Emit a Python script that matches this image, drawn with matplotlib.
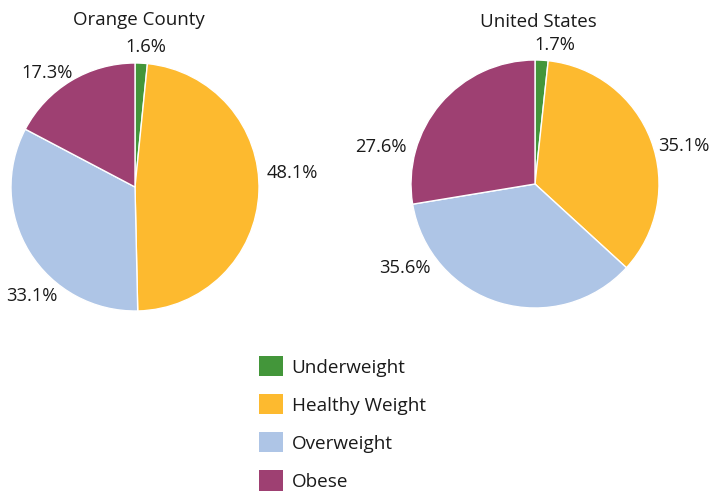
import numpy as np
import matplotlib.pyplot as plt
from matplotlib.patches import Patch

plt.rcParams['font.family'] = ['Open Sans', 'DejaVu Sans']

categories = ['Underweight', 'Healthy Weight', 'Overweight', 'Obese']
colors = ['#43963a', '#fdba2f', '#aec5e6', '#9e4072']

orange_county = [1.6, 48.1, 33.1, 17.3]
united_states = [1.7, 35.1, 35.6, 27.6]

# label placement (degrees, radius) for each wedge's percentage
oc_label_pos = [(85.5, 1.13), (5.0, 1.27), (-133.5, 1.21), (127.5, 1.16)]
us_label_pos = [(81.8, 1.13), (14.3, 1.24), (-147.3, 1.25), (166.6, 1.28)]

W, H = 710, 491
fig = plt.figure(figsize=(W / 100, H / 100), dpi=100)


def draw_pie(cx, cy, r, values, title, label_pos, title_y):
    ax = fig.add_axes([(cx - r) / W, (H - cy - r) / H, 2 * r / W, 2 * r / H])
    ax.pie(values, colors=colors, startangle=90, counterclock=False,
           wedgeprops=dict(edgecolor='white', linewidth=1.0))
    ax.set_xlim(-1, 1)
    ax.set_ylim(-1, 1)
    ax.set_aspect('equal')
    ax.axis('off')
    for v, (ang, d) in zip(values, label_pos):
        a = np.deg2rad(ang)
        ax.text(d * np.cos(a), d * np.sin(a), f'{v:.1f}%', ha='center',
                va='center', fontsize=13.2, color='#1a1a1a', clip_on=False)
    ax.text(0.03, title_y, title, ha='center', va='center', fontsize=13.5,
            color='#1a1a1a', clip_on=False)


draw_pie(135, 187, 124, orange_county, 'Orange County', oc_label_pos, 1.35)
draw_pie(535, 184, 124, united_states, 'United States', us_label_pos, 1.31)

handles = [Patch(facecolor=c, edgecolor='none') for c in colors]
fig.legend(handles, categories, loc='upper left',
           bbox_to_anchor=(259 / W, 1 - 356 / H), frameon=False,
           fontsize=13.6, handlelength=1.28, handleheight=1.28,
           handletextpad=0.45, labelspacing=0.93, borderpad=0,
           borderaxespad=0, labelcolor='#1a1a1a')

fig.savefig('out.png', dpi=100, facecolor='white')
